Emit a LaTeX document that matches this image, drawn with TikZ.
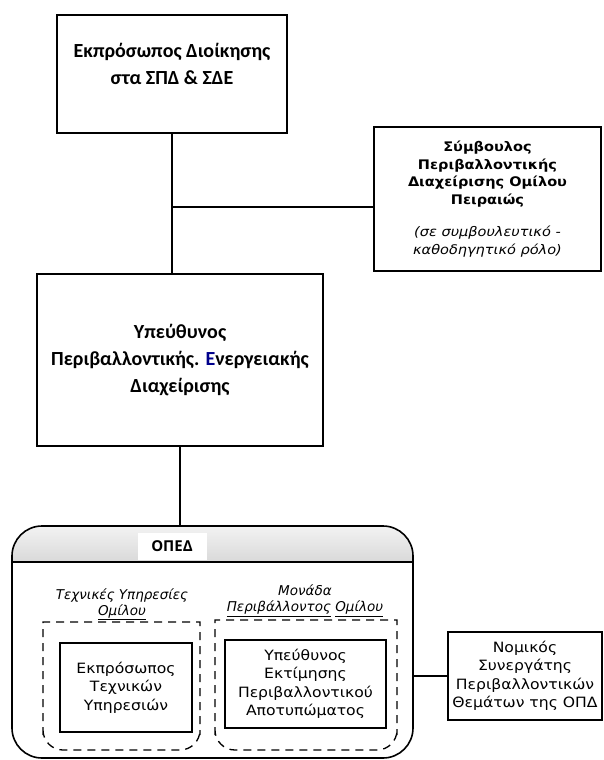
\documentclass[tikz,border=0pt]{standalone}
\usepackage{fontspec}
\setmainfont{Carlito}
\newfontfamily\gothic{DejaVu Sans}
\newfontfamily\gothicwide[FakeStretch=1.1]{DejaVu Sans}
\newfontfamily\opedfont{Open Sans}

\begin{document}
\begin{tikzpicture}[x=1pt,y=-1pt,
    box/.style={draw,line width=1.6pt,inner sep=0pt,align=center},
    small/.style={draw,line width=1.3pt,inner sep=0pt,align=center,font=\gothicwide\fontsize{14.2}{18.5}\selectfont},
    grouplbl/.style={align=center,font=\gothic\itshape\fontsize{13.5}{16}\selectfont},
    group/.style={line width=1.3pt,dash pattern=on 8pt off 6pt},
    line/.style={line width=1.4pt}]
  \useasboundingbox (0,0) rectangle (604,760);

  \node[box, minimum width=230, minimum height=118, font=\bfseries\fontsize{20}{27}\selectfont] (dioik) at (172,74) {Εκπρόσωπος Διοίκησης\\στα ΣΠΔ \& ΣΔΕ\\[-6pt]~};
  \node[box, minimum width=227, minimum height=144, font=\gothicwide\bfseries\fontsize{13.2}{17.5}\selectfont] (symb) at (487.5,199) {Σύμβουλος\\Περιβαλλοντικής\\Διαχείρισης Ομίλου\\Πειραιώς\\[15pt]{\mdseries\itshape (σε συμβουλευτικό -}\\{\mdseries\itshape καθοδηγητικό ρόλο)}};
  \node[box, minimum width=286, minimum height=172, font=\bfseries\fontsize{20}{27}\selectfont] (ypeuth) at (180,360) {Υπεύθυνος\\Περιβαλλοντικής. {\color{blue!55!black}Ε}νεργειακής\\Διαχείρισης};

  \coordinate (branch) at (172,207);
  \draw[line] (dioik.south) -- (dioik.south |- ypeuth.north);
  \draw[line] (branch) -- (branch -| symb.west);

  % ΟΠΕΔ
  \begin{scope}
    \clip[rounded corners=30] (12,526) rectangle (413,758);
    \shade[top color=gray!10, bottom color=gray!30] (12,526) rectangle (413,562);
  \end{scope}
  \node[draw, line width=1.6pt, rounded corners=30, minimum width=401, minimum height=232] (oped) at (212.5,642) {};
  \draw[line] (12,562) -- (413,562);
  \node[fill=white, minimum width=69, minimum height=27, inner sep=0pt, font=\opedfont\bfseries\fontsize{15}{18}\selectfont] (opedlbl) at (172,546.5) {ΟΠΕΔ};
  \draw[line] (ypeuth.south) -- (ypeuth.south |- oped.north);

  \node[grouplbl] (techlbl) at (122,604) {Τεχνικές Υπηρεσίες\\\underline{Ομίλου}};
  \node[grouplbl] (monlbl) at (305,601) {Μονάδα\\\underline{Περιβάλλοντος} \underline{Ομίλου}};
  \draw[group] (43,735) -- (43,622) -- (200,622) -- (200,735) [rounded corners=20] -- (200,750) -- (43,750) -- (43,735);
  \draw[group] (215,735) -- (215,620) -- (397,620) -- (397,735) [rounded corners=20] -- (397,750) -- (215,750) -- (215,735);

  \node[small, minimum width=132, minimum height=89] (tech) at (126,687.5) {Εκπρόσωπος\\Τεχνικών\\Υπηρεσιών};
  \node[small, minimum width=161, minimum height=88] (ektim) at (305.5,684) {Υπεύθυνος\\Εκτίμησης\\Περιβαλλοντικού\\Αποτυπώματος};
  \node[small, minimum width=154, minimum height=88] (nomik) at (525,676) {Νομικός\\Συνεργάτης\\Περιβαλλοντικών\\Θεμάτων της ΟΠΔ};
  \draw[line] (nomik.west) -- (nomik.west -| oped.east);
\end{tikzpicture}
\end{document}
